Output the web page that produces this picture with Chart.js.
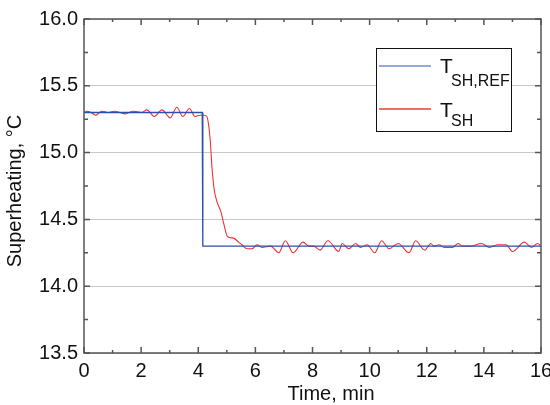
<!DOCTYPE html>
<html>
<head>
<meta charset="utf-8">
<style>
  html, body { margin: 0; padding: 0; background: #fff; overflow: hidden; }
</style>
</head>
<body>
<canvas id="myChart" width="550" height="405"></canvas>

<script src="https://cdn.jsdelivr.net/npm/chart.js"></script>
<script>
  // reference setpoint (step at ~4.15 min)
  var refTime  = [0, 4.14, 4.16, 16]
  var refValue = [15.3, 15.3, 14.3, 14.3]

  var shTime = [0, 0.1, 0.25, 0.42, 0.62, 0.85, 1.09, 1.25, 1.44, 1.73, 2.02, 2.2, 2.46, 2.73, 3.02, 3.25,
    3.46, 3.69, 3.89, 4.07, 4.21, 4.3, 4.42, 4.48, 4.56, 4.66, 4.79, 4.89, 5.03, 5.24, 5.41, 5.53,
    5.71, 5.88, 6.06, 6.23, 6.53, 6.82, 7.05, 7.32, 7.67, 7.87, 8.05, 8.26, 8.54, 8.92, 9.04, 9.27,
    9.51, 9.68, 9.91, 10.18, 10.42, 10.68, 11.0, 11.38, 11.61, 11.93, 12.14, 12.25, 12.43, 12.61,
    12.9, 13.1, 13.25, 13.54, 13.92, 14.19, 14.5, 14.78, 15.0, 15.42, 15.67, 15.88, 16]
  var shValue = [15.30, 15.31, 15.30, 15.28, 15.31, 15.30, 15.31, 15.30, 15.29, 15.31, 15.30, 15.32, 15.27, 15.32, 15.26, 15.34,
    15.27, 15.33, 15.27, 15.28, 15.28, 15.27, 15.09, 14.89, 14.72, 14.63, 14.56, 14.47, 14.37, 14.36, 14.33, 14.31,
    14.28, 14.28, 14.31, 14.29, 14.30, 14.25, 14.34, 14.25, 14.33, 14.30, 14.30, 14.27, 14.34, 14.26, 14.32, 14.28,
    14.32, 14.29, 14.31, 14.25, 14.34, 14.28, 14.32, 14.25, 14.34, 14.27, 14.32, 14.30, 14.31, 14.29,
    14.29, 14.32, 14.30, 14.30, 14.32, 14.29, 14.31, 14.31, 14.26, 14.33, 14.29, 14.32, 14.30]

  var xMajor = [0, 2, 4, 6, 8, 10, 12, 14, 16]
  var xMinor = [1, 3, 5, 7, 9, 11, 13, 15]
  var yMajor = [13.5, 14.0, 14.5, 15.0, 15.5, 16.0]
  var yMinor = [13.75, 14.25, 14.75, 15.25, 15.75]

  var FONT = '"Liberation Sans", Arial, Helvetica, sans-serif'

  function pts(xs, ys){
    return xs.map((t, i) => ({x: t, y: ys[i]}))
  }

  // box + inward ticks on all four sides
  const frame = {
    id: 'frame',
    afterDatasetsDraw(chart) {
      const {ctx, chartArea: a, scales: {x, y}} = chart
      ctx.save()
      ctx.strokeStyle = '#555'
      ctx.lineWidth = 1.5
      ctx.strokeRect(a.left, a.top, a.right - a.left, a.bottom - a.top)
      ctx.beginPath()
      xMajor.concat(xMinor).forEach((t) => {
        const px = x.getPixelForValue(t)
        const len = xMajor.includes(t) ? 6 : 3
        ctx.moveTo(px, a.bottom); ctx.lineTo(px, a.bottom - len)
        ctx.moveTo(px, a.top); ctx.lineTo(px, a.top + len)
      })
      yMajor.concat(yMinor).forEach((v) => {
        const py = y.getPixelForValue(v)
        const len = yMajor.includes(v) ? 6 : 4
        ctx.moveTo(a.left, py); ctx.lineTo(a.left + len, py)
        ctx.moveTo(a.right, py); ctx.lineTo(a.right - len, py)
      })
      ctx.stroke()
      ctx.restore()
    }
  }

  // axis titles and the legend with subscripts
  const decor = {
    id: 'decor',
    afterDraw(chart) {
      const {ctx, chartArea: a} = chart
      ctx.save()
      ctx.fillStyle = '#111'
      ctx.font = '20px ' + FONT
      ctx.textAlign = 'center'
      ctx.textBaseline = 'middle'
      ctx.fillText('Time, min', 331, 394)
      ctx.translate(15, 191)
      ctx.rotate(-Math.PI / 2)
      ctx.fillText('Superheating, \u00B0C', 0, 0)
      ctx.restore()

      // legend
      ctx.save()
      ctx.fillStyle = '#fff'
      ctx.fillRect(376, 48, 136, 83)
      ctx.strokeStyle = '#111'
      ctx.lineWidth = 1
      ctx.strokeRect(376.5, 48.5, 135, 83)
      ctx.lineWidth = 1.3
      ctx.strokeStyle = '#6f8ccc'
      ctx.beginPath(); ctx.moveTo(379, 66); ctx.lineTo(431, 66); ctx.stroke()
      ctx.strokeStyle = '#ee3a3a'
      ctx.beginPath(); ctx.moveTo(379, 109); ctx.lineTo(431, 109); ctx.stroke()
      ctx.fillStyle = '#111'
      ctx.textAlign = 'left'
      ctx.textBaseline = 'alphabetic'
      ctx.font = '21px ' + FONT
      ctx.fillText('T', 440, 73)
      ctx.fillText('T', 440, 117)
      ctx.font = '16px ' + FONT
      ctx.fillText('SH,REF', 451, 86)
      ctx.fillText('SH', 451, 126)
      ctx.restore()
    }
  }

  const ctx = document.getElementById('myChart')

  new Chart(ctx, {
    type: 'line',
    data: {
      datasets: [{
        label: 'T_SH,REF',
        data: pts(refTime, refValue),
        borderColor: '#2b4db3',
        borderWidth: 1.3,
        pointRadius: 0,
        tension: 0
      }, {
        label: 'T_SH',
        data: pts(shTime, shValue),
        borderColor: '#f03232',
        borderWidth: 1.1,
        pointRadius: 0,
        cubicInterpolationMode: 'monotone'
      }]
    },
    plugins: [frame, decor],
    options: {
      responsive: false,
      animation: false,
      devicePixelRatio: 1,
      layout: { padding: { left: 0, right: 9, top: 19, bottom: 0 } },
      plugins: {
        legend: { display: false },
        tooltip: { enabled: false }
      },
      scales: {
        x: {
          type: 'linear',
          min: 0,
          max: 16,
          afterBuildTicks: (s) => { s.ticks = xMajor.map((v) => ({value: v})) },
          ticks: {
            color: '#111',
            font: { family: FONT, size: 20 },
            padding: -2,
            maxRotation: 0,
            autoSkip: false
          },
          grid: { display: false },
          border: { display: false },
          afterFit: (s) => { s.height = 52; s.paddingLeft = 0; s.paddingRight = 0 }
        },
        y: {
          min: 13.5,
          max: 16,
          afterBuildTicks: (s) => { s.ticks = yMajor.map((v) => ({value: v})) },
          ticks: {
            color: '#111',
            font: { family: FONT, size: 20 },
            padding: 6,
            callback: (v) => v.toFixed(1)
          },
          grid: { color: '#c8c8c8', lineWidth: 1, drawTicks: false },
          border: { display: false },
          afterFit: (s) => { s.width = 84; s.paddingTop = 0; s.paddingBottom = 0 }
        }
      }
    }
  });
</script>
</body>
</html>
